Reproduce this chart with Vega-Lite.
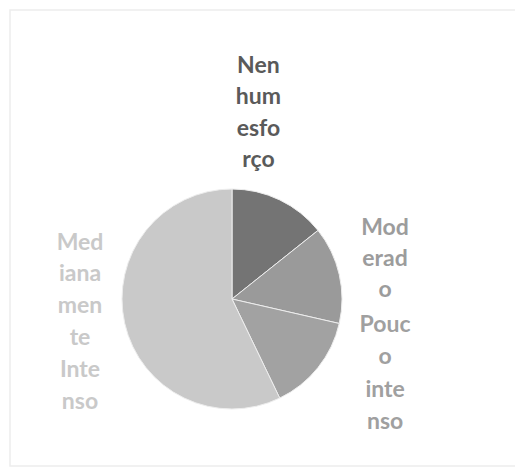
{
  "$schema": "https://vega.github.io/schema/vega-lite/v6.json",
  "width": 508,
  "height": 456,
  "autosize": {"type": "none"},
  "padding": {"left": 10, "top": 10, "right": 0, "bottom": 3},
  "background": "#ffffff",
  "view": {"stroke": "#ededed", "strokeWidth": 1.5},
  "data": {
    "values": [
      {"categoria": "Nenhum esforço", "rotulo": "Nen\nhum\nesfo\nrço", "valor": 1},
      {"categoria": "Moderado", "rotulo": "Mod\nerad\no", "valor": 1},
      {"categoria": "Pouco intenso", "rotulo": "Pouc\no\ninte\nnso", "valor": 1},
      {"categoria": "Medianamente Intenso", "rotulo": "Med\niana\nmen\nte\nInte\nnso", "valor": 4}
    ]
  },
  "transform": [{"window": [{"op": "row_number", "as": "ordem"}]}],
  "encoding": {
    "theta": {"field": "valor", "type": "quantitative", "stack": true},
    "order": {"field": "ordem", "type": "quantitative"}
  },
  "layer": [
    {
      "mark": {"type": "arc", "outerRadius": 110, "xOffset": -32, "yOffset": 61, "stroke": "#ededed", "strokeWidth": 1},
      "encoding": {
        "color": {
          "field": "categoria",
          "type": "nominal",
          "scale": {
            "domain": ["Nenhum esforço", "Moderado", "Pouco intenso", "Medianamente Intenso"],
            "range": ["#747474", "#9a9a9a", "#a2a2a2", "#c9c9c9"]
          },
          "legend": null
        }
      }
    },
    {
      "mark": {"type": "text", "radius": 160, "xOffset": -32, "yOffset": 61, "dx": -43, "dy": -89, "font": "Lato", "fontSize": 23, "fontWeight": "bold", "lineBreak": "\n", "lineHeight": 31.5, "align": "center", "baseline": "middle", "fill": "#5a5a5a"},
      "encoding": {
        "text": {"condition": {"test": "datum.categoria === 'Nenhum esforço'", "field": "rotulo"}, "value": ""}
      }
    },
    {
      "mark": {"type": "text", "radius": 160, "xOffset": -32, "yOffset": 61, "dx": -3, "dy": -35, "font": "Lato", "fontSize": 23, "fontWeight": "bold", "lineBreak": "\n", "lineHeight": 31, "align": "center", "baseline": "middle", "fill": "#9c9c9c"},
      "encoding": {
        "text": {"condition": {"test": "datum.categoria === 'Moderado'", "field": "rotulo"}, "value": ""}
      }
    },
    {
      "mark": {"type": "text", "radius": 160, "xOffset": -32, "yOffset": 61, "dx": 28, "dy": -74, "font": "Lato", "fontSize": 23, "fontWeight": "bold", "lineBreak": "\n", "lineHeight": 32.5, "align": "center", "baseline": "middle", "fill": "#a0a0a0"},
      "encoding": {
        "text": {"condition": {"test": "datum.categoria === 'Pouco intenso'", "field": "rotulo"}, "value": ""}
      }
    },
    {
      "mark": {"type": "text", "radius": 160, "xOffset": -32, "yOffset": 61, "dx": 4, "dy": -92, "font": "Lato", "fontSize": 23, "fontWeight": "bold", "lineBreak": "\n", "lineHeight": 31.8, "align": "center", "baseline": "middle", "fill": "#c9c9c9"},
      "encoding": {
        "text": {"condition": {"test": "datum.categoria === 'Medianamente Intenso'", "field": "rotulo"}, "value": ""}
      }
    }
  ]
}
